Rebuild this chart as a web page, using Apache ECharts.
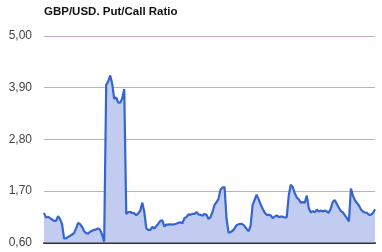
<!DOCTYPE html>
<html><head><meta charset="utf-8">
<script src="https://cdn.jsdelivr.net/npm/echarts@6/dist/echarts.min.js"></script>
<style>html,body{margin:0;padding:0;background:#fff}#c{width:382px;height:252px}</style>
</head><body><div id="c"></div>
<script>
const title = 'GBP/USD. Put/Call Ratio';
const yTicks = [0.6, 1.7, 2.8, 3.9, 5.0];
const ratio = [
1.23,1.13,1.15,1.12,1.09,1.06,1.06,1.16,1.10,0.99,
0.69,0.69,0.72,0.74,0.77,0.80,0.90,1.02,0.99,0.93,
0.84,0.80,0.79,0.83,0.85,0.87,0.88,0.90,0.87,0.76,
0.62,3.96,4.03,4.16,3.98,3.66,3.69,3.58,3.58,3.67,
3.87,1.21,1.25,1.25,1.23,1.22,1.18,1.22,1.28,1.45,
1.25,0.90,0.87,0.87,0.93,0.90,0.95,1.00,1.06,1.07,
0.94,0.98,0.98,0.99,0.98,0.99,1.00,1.02,1.03,1.01,
1.12,1.14,1.20,1.19,1.21,1.21,1.25,1.20,1.19,1.17,
1.21,1.19,1.10,1.14,1.25,1.40,1.46,1.53,1.73,1.77,
1.78,1.10,0.81,0.82,0.85,0.90,0.97,0.99,1.00,0.99,
0.95,0.89,0.84,0.96,1.40,1.51,1.62,1.52,1.41,1.32,
1.24,1.19,1.19,1.18,1.12,1.15,1.18,1.14,1.15,1.15,
1.13,1.14,1.60,1.83,1.78,1.65,1.56,1.52,1.45,1.46,
1.45,1.60,1.33,1.24,1.27,1.24,1.30,1.26,1.28,1.26,
1.28,1.26,1.23,1.33,1.47,1.50,1.42,1.34,1.27,1.24,
1.18,1.12,1.05,1.75,1.60,1.50,1.44,1.39,1.30,1.26,
1.24,1.23,1.19,1.19,1.23,1.31
];
const days = ratio.map((_, i) => String(i + 1));

const chart = echarts.init(document.getElementById('c'), null, {renderer: 'canvas'});
chart.setOption({
  animation: false,
  title: {
    text: title, left: 39, top: 1,
    textStyle: {fontFamily: 'Liberation Sans, Arial, sans-serif', fontSize: 11.5, fontWeight: 'bold', color: '#111'}
  },
  grid: {left: 44, right: 7, top: 36, bottom: 9.5},
  xAxis: {
    type: 'category', data: days, boundaryGap: false,
    axisLine: {show: true, lineStyle: {color: '#333', width: 2}},
    axisTick: {show: false}, axisLabel: {show: false}, splitLine: {show: false}
  },
  yAxis: {
    type: 'value', min: yTicks[0], max: yTicks[yTicks.length - 1], interval: 1.1,
    axisLine: {show: false}, axisTick: {show: false},
    axisLabel: {
      margin: 12, color: '#444', fontSize: 12,
      fontFamily: 'Liberation Sans, Arial, sans-serif',
      formatter: v => v.toFixed(2).replace('.', ',')
    },
    splitLine: {lineStyle: {color: '#c4a9c8', width: 1}}
  },
  series: [{
    type: 'line', data: ratio, symbol: 'none',
    lineStyle: {color: '#3566cf', width: 2.2},
    areaStyle: {color: '#c2ccf0', opacity: 1},
    z: 3
  }]
});
</script></body></html>
